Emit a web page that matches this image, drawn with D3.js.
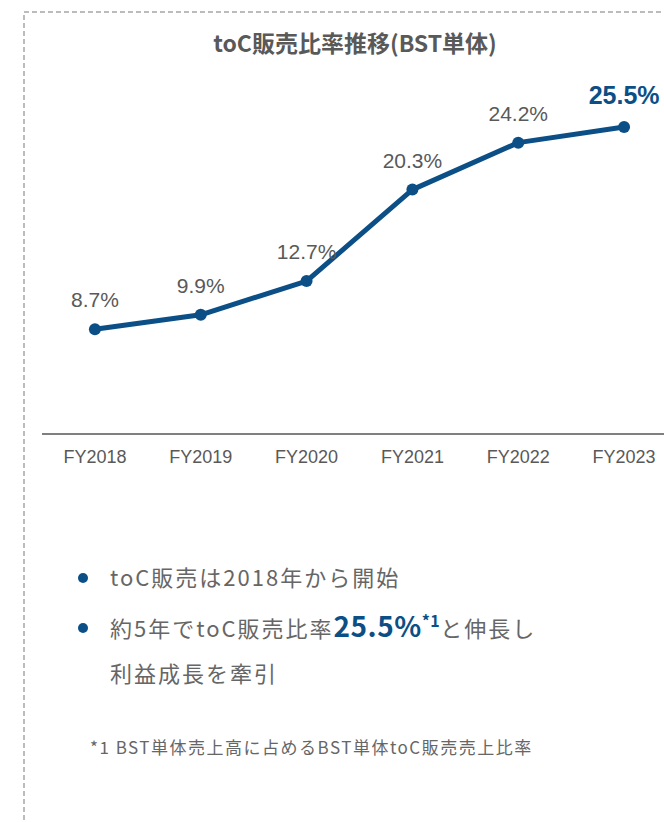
<!DOCTYPE html>
<html>
<head>
<meta charset="utf-8">
<script src="https://cdn.jsdelivr.net/npm/d3@7"></script>
<style>
  html, body { margin: 0; padding: 0; background: #ffffff; }
  svg { display: block; }
</style>
</head>
<body>
<svg id="chart" width="664" height="822"></svg>
<script>
// toC sales ratio by fiscal year (BST standalone), percent
const years = ["FY2018", "FY2019", "FY2020", "FY2021", "FY2022", "FY2023"];
const ratios = [8.7, 9.9, 12.7, 20.3, 24.2, 25.5];
const labels = ["8.7%", "9.9%", "12.7%", "20.3%", "24.2%", "25.5%"];

const title = "toC販売比率推移(BST単体)";
const bullet1 = "toC販売は2018年から開始";
const bullet2Parts = ["約5年でtoC販売比率", "25.5%", "*1", "と伸長し"];
const bullet3 = "利益成長を牽引";
const footnote = "*1 BST単体売上高に占めるBST単体toC販売売上比率";

const BLUE = "#0b4f86";
const GRAY_TEXT = "#595959";
const CJK = "'Noto Sans CJK JP', 'Noto Sans', sans-serif";
const ARIAL = "'Liberation Sans', Arial, sans-serif";

const svg = d3.select("#chart");

// dashed frame around the panel
svg.append("rect")
  .attr("x", 24).attr("y", 12)
  .attr("width", 700).attr("height", 900)
  .attr("fill", "none")
  .attr("stroke", "#a6a6a6")
  .attr("stroke-width", 1.5)
  .attr("stroke-dasharray", "5,3");

// title
svg.append("text")
  .attr("x", 355).attr("y", 52)
  .attr("text-anchor", "middle")
  .attr("font-family", CJK)
  .attr("font-weight", 700)
  .attr("font-size", 23)
  .attr("fill", GRAY_TEXT)
  .text(title);

// scales
const x = d3.scaleBand().domain(years).range([42, 677]).padding(0);
const y = d3.scaleLinear().domain([0, 25.5]).range([434, 127]);
const cx = d => x(d) + x.bandwidth() / 2;

// category axis
const axis = svg.append("g")
  .attr("transform", `translate(0,${y(0)})`)
  .call(d3.axisBottom(x).tickSize(0).tickPadding(16));
axis.select(".domain")
  .attr("stroke", "#7f7f7f")
  .attr("stroke-width", 2)
  .attr("d", `M42,0H664`);
axis.selectAll("text")
  .attr("font-family", ARIAL)
  .attr("font-size", 18)
  .attr("fill", GRAY_TEXT);

const pts = years.map((yr, i) => ({ yr, v: ratios[i], label: labels[i], i }));

// line
svg.append("path")
  .datum(pts)
  .attr("fill", "none")
  .attr("stroke", BLUE)
  .attr("stroke-width", 5)
  .attr("stroke-linejoin", "round")
  .attr("d", d3.line().x(d => cx(d.yr)).y(d => y(d.v)));

// markers
svg.selectAll("circle.pt")
  .data(pts)
  .join("circle")
  .attr("class", "pt")
  .attr("cx", d => cx(d.yr))
  .attr("cy", d => y(d.v))
  .attr("r", 6)
  .attr("fill", BLUE);

// value labels
const last = pts.length - 1;
svg.selectAll("text.val")
  .data(pts)
  .join("text")
  .attr("class", "val")
  .attr("x", d => cx(d.yr))
  .attr("y", d => y(d.v) - (d.i === last ? 23 : 22))
  .attr("text-anchor", "middle")
  .attr("font-family", ARIAL)
  .attr("font-size", d => d.i === last ? 25 : 21)
  .attr("font-weight", d => d.i === last ? 700 : 400)
  .attr("fill", d => d.i === last ? BLUE : GRAY_TEXT)
  .text(d => d.label);

// bullet points
const BODY = "#666666";
[578, 628].forEach(cy => {
  svg.append("circle").attr("cx", 83).attr("cy", cy).attr("r", 5).attr("fill", BLUE);
});

const bodyText = (yy, s) => svg.append("text")
  .attr("x", 110).attr("y", yy)
  .attr("font-family", CJK)
  .attr("font-size", 22)
  .attr("letter-spacing", 2)
  .attr("fill", BODY)
  .text(s);

bodyText(586, bullet1);

const t2 = svg.append("text")
  .attr("x", 110).attr("y", 637)
  .attr("font-family", CJK)
  .attr("font-size", 22)
  .attr("letter-spacing", 2)
  .attr("fill", BODY);
t2.append("tspan").text(bullet2Parts[0]);
t2.append("tspan")
  .attr("font-size", 28).attr("font-weight", 700).attr("fill", BLUE)
  .attr("letter-spacing", 0.5)
  .text(bullet2Parts[1]);
t2.append("tspan")
  .attr("font-size", 16).attr("font-weight", 700).attr("fill", BLUE)
  .attr("dy", -10).attr("letter-spacing", 0.5)
  .text(bullet2Parts[2]);
t2.append("tspan")
  .attr("dy", 10)
  .text(bullet2Parts[3]);

bodyText(682, bullet3);

// footnote
svg.append("text")
  .attr("x", 90).attr("y", 754)
  .attr("font-family", CJK)
  .attr("font-size", 17)
  .attr("letter-spacing", 1.5)
  .attr("fill", BODY)
  .text(footnote);
</script>
</body>
</html>
